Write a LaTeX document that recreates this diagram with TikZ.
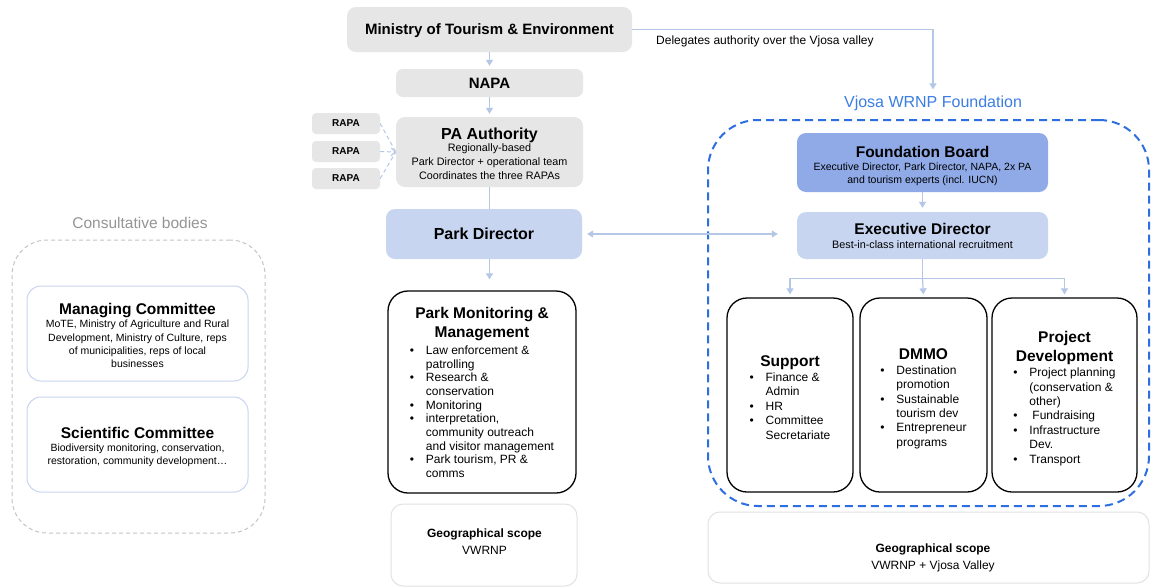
\documentclass[tikz,border=0pt]{standalone}
\usepackage{fontspec}
\setmainfont{Liberation Sans}
\usetikzlibrary{arrows.meta,calc}
\definecolor{boxgray}{HTML}{E6E6E6}
\definecolor{pdblue}{HTML}{C7D5F1}
\definecolor{fbblue}{HTML}{8FAAE7}
\definecolor{arrowblue}{HTML}{B4C7E7}
\definecolor{dashblue}{HTML}{2D6FE0}
\definecolor{titleblue}{HTML}{3B7DE3}
\definecolor{consgray}{HTML}{C4C4C4}
\definecolor{constext}{HTML}{959595}
\definecolor{combord}{HTML}{C8D4F0}
\definecolor{geobord}{HTML}{E2E2E2}
\newcommand{\fs}[2]{\fontsize{#1}{#2}\selectfont}
\newcommand{\tp}[1]{\rule{0pt}{#1pt}}
\newcommand{\blist}[2]{{\normalfont\fontsize{12}{#1}\selectfont\begin{tabular}[t]{@{}l@{\hspace{11.8pt}}l@{}}#2\end{tabular}}}
\tikzset{
  graybox/.style={fill=boxgray, rounded corners=9pt, inner sep=0pt, align=center},
  lbluebox/.style={fill=pdblue, rounded corners=9pt, inner sep=0pt, align=center},
  fbbox/.style={fill=fbblue, rounded corners=9pt, inner sep=0pt, align=center},
  blkbox/.style={draw=black, line width=1.3pt, rounded corners=20pt, fill=white, inner sep=0pt, align=center},
  combox/.style={draw=combord, line width=1pt, rounded corners=14pt, fill=white, inner sep=0pt, align=center},
  geobox/.style={draw=geobord, line width=1pt, rounded corners=12pt, fill=white, inner sep=0pt},
  conn/.style={draw=arrowblue, line width=1.2pt},
  arr/.style={conn, -{Triangle[width=7pt,length=6pt]}},
  rapaline/.style={draw=arrowblue, line width=1pt, dash pattern=on 4pt off 3pt},
  founddash/.style={draw=dashblue, line width=2pt, dash pattern=on 8pt off 5pt, rounded corners=50pt, inner sep=0pt},
  consdash/.style={draw=consgray, line width=1pt, dash pattern=on 4pt off 3pt, rounded corners=35pt, inner sep=0pt},
}
\begin{document}
\begin{tikzpicture}[x=1pt,y=-1pt]
\useasboundingbox[fill=white] (0,0) rectangle (1151,587);

% containers
\node[consdash, minimum width=253pt, minimum height=293pt] (cons) at (138.5,386.5) {};
\node[founddash, minimum width=441pt, minimum height=386pt] (fnd) at (928.5,313) {};
\node[font=\fs{15.5}{18}, text=constext, inner sep=0pt] (constitle) at (140,223) {Consultative bodies};
\node[font=\fs{16}{18}, text=titleblue, inner sep=0pt] (vf) at (933,103) {Vjosa WRNP Foundation};

% left column
\node[graybox, minimum width=285pt, minimum height=45pt, font=\bfseries\fs{15}{18}] (min) at (489.5,29.5) {\tp{14}Ministry of Tourism \& Environment};
\node[graybox, rounded corners=7pt, minimum width=187pt, minimum height=28pt, font=\bfseries\fs{15}{18}] (napa) at (489.5,83) {NAPA};
\node[graybox, minimum width=187pt, minimum height=70pt, font=\fs{10.8}{14}] (pa) at (489.5,152)
  {{\bfseries\fs{16}{18}\tp{15.7}PA Authority}\\[-2pt]Regionally-based\\Park Director + operational team\\Coordinates the three RAPAs};
\node[graybox, rounded corners=4pt, minimum width=68pt, minimum height=21pt, font=\bfseries\fs{10}{12}] (rapa1) at (346,123.5) {RAPA};
\node[graybox, rounded corners=4pt, minimum width=68pt, minimum height=21pt, font=\bfseries\fs{10}{12}] (rapa2) at (346,151.5) {RAPA};
\node[graybox, rounded corners=4pt, minimum width=68pt, minimum height=21pt, font=\bfseries\fs{10}{12}] (rapa3) at (346,178.5) {RAPA};
\node[lbluebox, minimum width=196pt, minimum height=50pt, font=\bfseries\fs{16}{18}] (pd) at (484,234) {Park Director};
\node[blkbox, minimum width=188pt, minimum height=202pt, font=\bfseries\fs{15.5}{19}] (pmm) at (482,392)
  {\tp{16}Park Monitoring \&\\Management\\[-2pt]
   \blist{13.7}{• & Law enforcement \&\\ & patrolling\\ • & Research \&\\ & conservation\\ • & Monitoring\\ • & interpretation,\\ & community outreach\\ & and visitor management\\ • & Park tourism, PR \&\\ & comms}};
\node[geobox, minimum width=186pt, minimum height=82pt] (geoL) at (484,545) {};
\node[font=\fs{12}{17}, align=center, inner sep=0pt] (geoLt) at (484.5,541.5) {{\bfseries Geographical scope}\\VWRNP};

% consultative bodies
\node[combox, minimum width=221pt, minimum height=95pt, font=\fs{10.5}{13.2}] (mc) at (137.5,333.5)
  {{\bfseries\fs{15.5}{18}\tp{15.3}Managing Committee}\\MoTE, Ministry of Agriculture and Rural\\Development,  Ministry of Culture, reps\\of municipalities, reps of local\\businesses};
\node[combox, minimum width=221pt, minimum height=95pt, font=\fs{10.5}{13.2}] (sc) at (137.5,444.5)
  {{\bfseries\fs{15.5}{18}\tp{16.3}Scientific Committee}\\Biodiversity monitoring, conservation,\\restoration, community development\dots};

% foundation
\node[fbbox, minimum width=251pt, minimum height=59pt, font=\fs{10.5}{13}] (fb) at (922.5,162.5)
  {{\bfseries\fs{15.5}{18}\tp{17.3}Foundation Board}\\Executive Director, Park Director, NAPA, 2x PA\\and tourism experts (incl. IUCN)};
\node[lbluebox, minimum width=251pt, minimum height=47pt, font=\fs{10.8}{14}] (ed) at (922.5,235.5)
  {{\bfseries\fs{15.5}{18}Executive Director}\\Best-in-class international recruitment};
\node[blkbox, minimum width=126pt, minimum height=194pt, font=\bfseries\fs{15.5}{19}] (sup) at (790,395)
  {\tp{20}Support\\[-4pt]\blist{14.4}{• & Finance \&\\ & Admin\\ • & HR\\ • & Committee\\ & Secretariate}};
\node[blkbox, minimum width=127pt, minimum height=194pt, font=\bfseries\fs{15.5}{19}] (dmmo) at (923.5,395)
  {\tp{20}DMMO\\[-4pt]\blist{14.4}{• & Destination\\ & promotion\\ • & Sustainable\\ & tourism dev\\ • & Entrepreneur\\ & programs}};
\node[blkbox, minimum width=145pt, minimum height=194pt, font=\bfseries\fs{15.5}{19}] (pdev) at (1064.5,395)
  {\tp{20}Project\\Development\\[-4pt]\blist{14.4}{• & Project planning\\ & (conservation \&\\ & other)\\ • & \hspace{3pt}Fundraising\\ • & Infrastructure\\ & Dev.\\ • & Transport}};
\node[geobox, minimum width=441pt, minimum height=71pt] (geoR) at (928.5,547.5) {};
\node[font=\fs{12}{17}, align=center, inner sep=0pt] (geoRt) at (933,557.5) {{\bfseries Geographical scope}\\VWRNP + Vjosa Valley};

% delegation
\node[font=\fs{12}{14}, anchor=west, inner sep=0pt] (dl) at (656,41) {Delegates authority over the Vjosa valley};
\draw[arr, shorten >=6pt] (min.east) -| (vf.north);

% connectors
\draw[arr, shorten >=3pt] (min.south) -- (napa.north);
\draw[arr, shorten >=3pt] (napa.south) -- (pa.north);
\draw[conn] (pa.south) -- (pa.south |- pd.north);
\draw[arr, shorten >=11pt] (pa.south |- pd.south) -- (pa.south |- pmm.north);
\draw[rapaline] (rapa1.east) -- (pa.west);
\draw[rapaline] (rapa3.east) -- (pa.west);
\draw[rapaline, -{Straight Barb[length=4pt,width=8pt]}] (rapa2.east) -- (pa.west);
\draw[conn, {Triangle[width=7pt,length=6pt]}-{Triangle[width=7pt,length=6pt]}, shorten <=5pt, shorten >=19pt] (pd.east) -- (pd.east -| ed.west);
\draw[arr, shorten >=4pt] (fb.south) -- (ed.north);
\coordinate (bj) at ($(ed.south)+(0,19)$);
\draw[conn] (ed.south) -- (bj);
\draw[conn] (bj -| sup) -- (bj -| pdev);
\draw[arr, shorten >=3pt] (bj -| sup) -- (sup.north);
\draw[arr, shorten >=3pt] (bj) -- (dmmo.north);
\draw[arr, shorten >=3pt] (bj -| pdev) -- (pdev.north);
\end{tikzpicture}
\end{document}
